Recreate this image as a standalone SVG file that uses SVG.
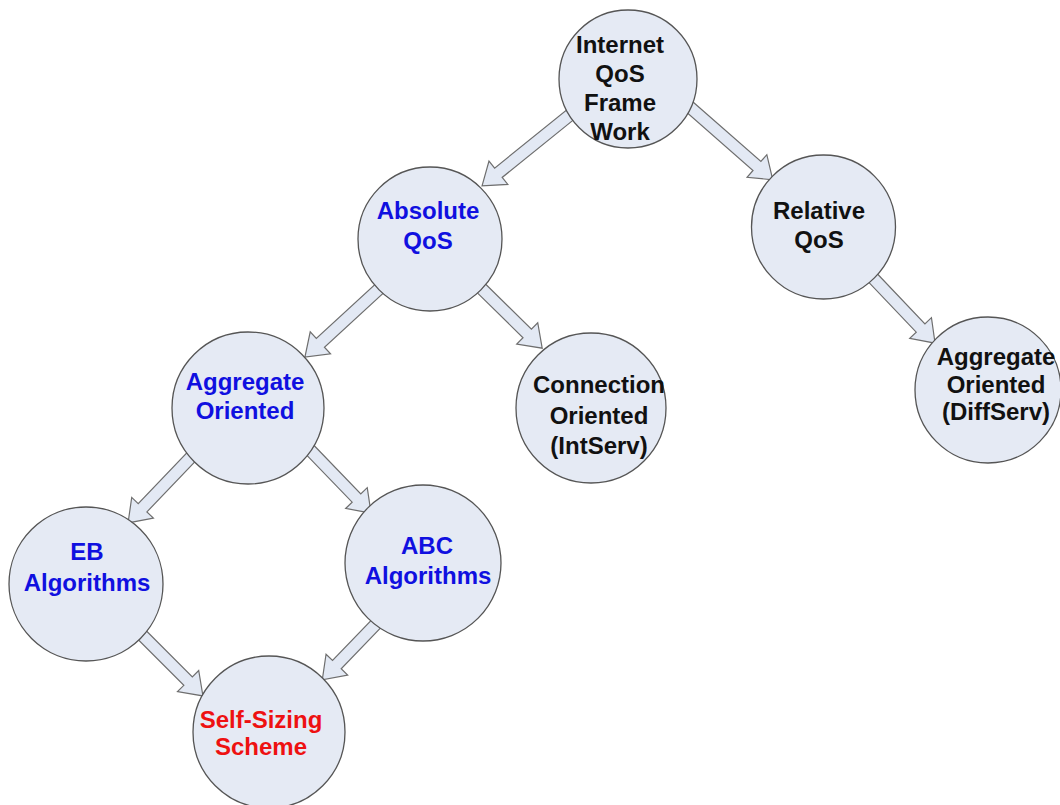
<svg xmlns="http://www.w3.org/2000/svg" width="1060" height="805" viewBox="0 0 1060 805">
<style>
.node circle{fill:#E5EAF4;stroke:#555;stroke-width:1.3}
.arr{fill:#E3E9F4;stroke:#6e6e6e;stroke-width:1.2;stroke-linejoin:miter}
text{font-family:"Liberation Sans",Arial,sans-serif;font-weight:bold;font-size:24px;text-anchor:middle}
.k{fill:#111}
.b{fill:#1010E0}
.r{fill:#EE1111}
</style>
<rect width="1060" height="805" fill="#fff"/>
<g id="connectors">
<polygon class="arr" transform="translate(570,115) rotate(141.1)" points="-6,-6 92,-6 92,-15 113,0 92,15 92,6 -6,6"/>
<polygon class="arr" transform="translate(693,110) rotate(41.2)" points="-6,-6 85,-6 85,-15 106,0 85,15 85,6 -6,6"/>
<polygon class="arr" transform="translate(873,278) rotate(46.4)" points="-6,-6 69,-6 69,-15 90,0 69,15 69,6 -6,6"/>
<polygon class="arr" transform="translate(380,288) rotate(137.4)" points="-6,-6 81,-6 81,-15 102,0 81,15 81,6 -6,6"/>
<polygon class="arr" transform="translate(483,290) rotate(44.5)" points="-6,-6 62,-6 62,-15 83,0 62,15 62,6 -6,6"/>
<polygon class="arr" transform="translate(193,455) rotate(133.7)" points="-6,-6 73,-6 73,-15 94,0 73,15 73,6 -6,6"/>
<polygon class="arr" transform="translate(312,452) rotate(46)" points="-6,-6 64,-6 64,-15 85,0 64,15 64,6 -6,6"/>
<polygon class="arr" transform="translate(140,633) rotate(45)" points="-6,-6 68,-6 68,-15 89,0 68,15 68,6 -6,6"/>
<polygon class="arr" transform="translate(375,625) rotate(133.9)" points="-6,-6 55,-6 55,-15 76,0 55,15 55,6 -6,6"/>
</g>
<g id="n-internet" class="node">
<circle cx="628" cy="79" r="69"/>
<text class="k" x="620" y="53">Internet</text>
<text class="k" x="620" y="82">QoS</text>
<text class="k" x="620" y="111">Frame</text>
<text class="k" x="620" y="140">Work</text>
</g>
<g id="n-absolute" class="node">
<circle cx="430" cy="239" r="72"/>
<text class="b" x="428" y="219">Absolute</text>
<text class="b" x="428" y="249">QoS</text>
</g>
<g id="n-relative" class="node">
<circle cx="823.5" cy="227" r="72"/>
<text class="k" x="819" y="219">Relative</text>
<text class="k" x="819" y="248">QoS</text>
</g>
<g id="n-aggregate" class="node">
<circle cx="248" cy="408" r="76"/>
<text class="b" x="245" y="390">Aggregate</text>
<text class="b" x="245" y="419">Oriented</text>
</g>
<g id="n-connection" class="node">
<circle cx="591" cy="408" r="75"/>
<text class="k" x="599" y="393">Connection</text>
<text class="k" x="599" y="424">Oriented</text>
<text class="k" x="599" y="454">(IntServ)</text>
</g>
<g id="n-diffserv" class="node">
<circle cx="988" cy="390" r="73"/>
<text class="k" x="996" y="365">Aggregate</text>
<text class="k" x="996" y="393">Oriented</text>
<text class="k" x="996" y="420">(DiffServ)</text>
</g>
<g id="n-eb" class="node">
<circle cx="86" cy="584" r="77"/>
<text class="b" x="87" y="560">EB</text>
<text class="b" x="87" y="591">Algorithms</text>
</g>
<g id="n-abc" class="node">
<circle cx="423" cy="563" r="78"/>
<text class="b" x="427" y="554">ABC</text>
<text class="b" x="428" y="584">Algorithms</text>
</g>
<g id="n-self" class="node">
<circle cx="269" cy="732" r="76"/>
<text class="r" x="261" y="728">Self-Sizing</text>
<text class="r" x="261" y="755">Scheme</text>
</g>
</svg>
